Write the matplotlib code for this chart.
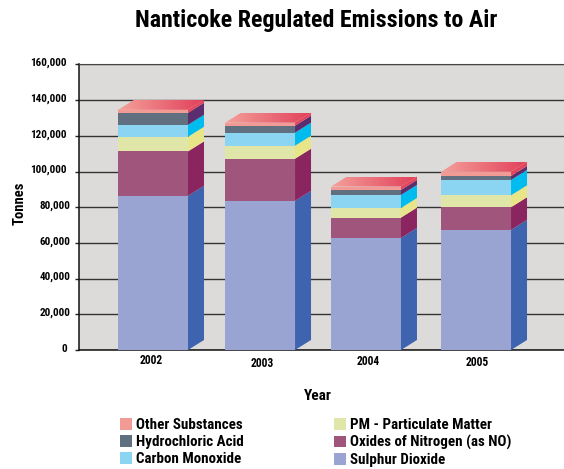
import numpy as np
import matplotlib
matplotlib.use("Agg")
from matplotlib import pyplot as plt
from matplotlib.patches import Polygon, Rectangle
from matplotlib.colors import LinearSegmentedColormap
from matplotlib.transforms import ScaledTranslation

years = ["2002", "2003", "2004", "2005"]
sulphur = [86400, 83600, 62800, 67300]
nitrogen = [24900, 23600, 11400, 12700]
particulate = [8200, 7300, 5400, 6700]
carbon = [6700, 7300, 7300, 8600]
hydrochloric = [6700, 3900, 2800, 2200]
other = [1700, 1700, 1900, 2400]
y_ticks = [0, 20000, 40000, 60000, 80000, 100000, 120000, 140000, 160000]

series = [sulphur, nitrogen, particulate, carbon, hydrochloric, other]
names = ["Sulphur Dioxide", "Oxides of Nitrogen (as NO)", "PM - Particulate Matter",
         "Carbon Monoxide", "Hydrochloric Acid", "Other Substances"]
front_colors = ["#99a4d3", "#a0567c", "#e0e6a8", "#8bd5f2", "#607080", "#f29a94"]
side_colors = ["#3f64af", "#8a2560", "#e8e488", "#00bcee", "#5a2e6e", "#e2455c"]

plt.rcParams["font.family"] = ["Roboto Condensed", "Roboto", "Liberation Sans"]
plt.rcParams["font.weight"] = "bold"

W, H = 564, 469
fig = plt.figure(figsize=(W / 100, H / 100), dpi=100)
ax = fig.add_axes([78.5 / W, (H - 350) / H, (W - 78.5) / W, 285.5 / H])
ax.set_facecolor("#dcdbda")

# bars are not quite evenly spaced in the original
x_pos = [0, 0.994, 1.978, 3]
width = 0.65
dx = 16 / 107.67
dy = 5604

ax.set_ylim(0, 160000)
ax.set_yticks(y_ticks)
ax.grid(axis="y", color="#333333", lw=1.0, zorder=1)
ax.set_axisbelow(True)

bottom = np.zeros(len(years))
for vals, fc, sc in zip(series, front_colors, side_colors):
    ax.bar(x_pos, vals, width, bottom=bottom, color=fc, zorder=3, lw=0)
    for x, b, v in zip(x_pos, bottom, vals):
        x1 = x + width / 2
        ax.add_patch(Polygon([(x1, b), (x1 + dx, b + dy), (x1 + dx, b + v + dy), (x1, b + v)],
                             closed=True, fc=sc, ec="none", zorder=3))
    bottom = bottom + np.array(vals)

# gradient lid on each stack
lid = LinearSegmentedColormap.from_list("lid", ["#f4a09a", "#e2405a"])
for x, t in zip(x_pos, bottom):
    x0, x1 = x - width / 2, x + width / 2
    im = ax.imshow(np.linspace(0, 1, 64).reshape(1, -1), cmap=lid, aspect="auto",
                   extent=(x0, x1 + dx, t, t + dy), zorder=4)
    poly = Polygon([(x0, t), (x1, t), (x1 + dx, t + dy), (x0 + dx, t + dy)],
                   closed=True, fc="none", ec="none", transform=ax.transData)
    ax.add_patch(poly)
    im.set_clip_path(poly)

ax.set_xlim(-0.692, 3.817)
ax.set_ylim(0, 160000)

ax.spines["right"].set_visible(False)
ax.spines["top"].set_color("#444444")
for s in ["left", "bottom"]:
    ax.spines[s].set_color("#111111")
    ax.spines[s].set_linewidth(1.1)

ax.set_xticks(x_pos)
ax.set_xticklabels(years, fontsize=8.3)
ax.tick_params(axis="x", length=0, pad=3)
ax.set_yticklabels([f"{v:,}" for v in y_ticks], fontsize=8)
ax.tick_params(axis="y", length=3.2, width=1, color="#222222", pad=1)

# small hand placement offsets of the tick labels, as in the original (pixels)
px = fig.dpi_scale_trans
for lab, (ox, oy) in zip(ax.get_xticklabels(), [(-2, 0), (2.5, -3), (2.5, -1), (1, -2)]):
    lab.set_transform(lab.get_transform() + ScaledTranslation(ox / 100, oy / 100, px))
for lab, v in zip(ax.get_yticklabels(), y_ticks):
    ox = -6 if v >= 100000 or v == 0 else -2
    lab.set_transform(lab.get_transform() + ScaledTranslation(ox / 100, 2.5 / 100, px))

fig.text(316 / W, 1 - 20 / H, "Nanticoke Regulated Emissions to Air", ha="center", va="center",
         fontsize=17.3, fontweight="bold")
fig.text(20 / W, 1 - 203 / H, "Tonnes", rotation=90, ha="center", va="center", fontsize=10.5)
fig.text(318 / W, 1 - 396 / H, "Year", ha="center", va="center", fontsize=11)

order = [5, 4, 3, 2, 1, 0]
handles = [Rectangle((0, 0), 1, 1, fc=front_colors[i], ec="none") for i in order]
labels = [names[i] for i in order]
fig.legend(handles, labels, ncol=2, loc="upper left", bbox_to_anchor=(120 / W, 1 - 418 / H),
           bbox_transform=fig.transFigure, frameon=False, fontsize=10.8, borderaxespad=0, borderpad=0,
           handlelength=0.8, handleheight=0.8, handletextpad=0.27, labelspacing=0.2, columnspacing=6.0)

fig.savefig("out.png", dpi=100)
